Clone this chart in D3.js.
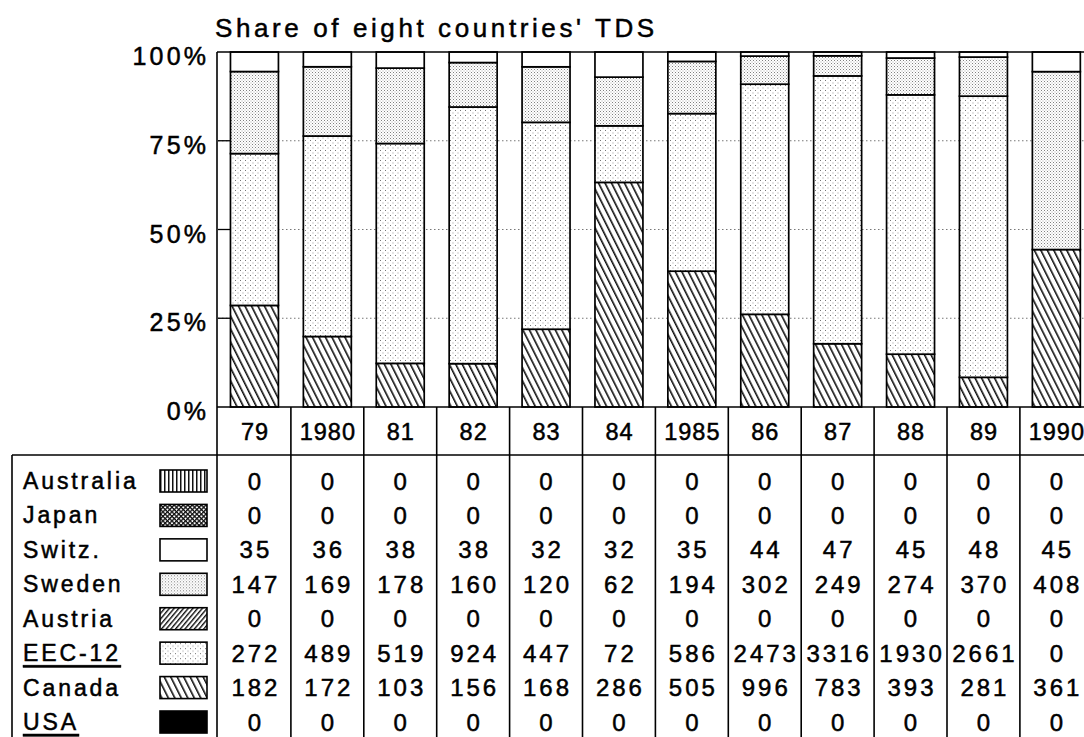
<!DOCTYPE html>
<html>
<head>
<meta charset="utf-8">
<script src="https://cdn.jsdelivr.net/npm/d3@7"></script>
<style>
  html, body { margin: 0; padding: 0; background: #fff; }
  svg { display: block; }
  text { font-family: "Liberation Sans", Arial, Helvetica, sans-serif; fill: #000; stroke: #000; stroke-width: 0.5px; }
</style>
</head>
<body>
<svg id="chart" width="1084" height="737"></svg>
<script>
// Years along the horizontal axis / table header
const years = ["79", "1980", "81", "82", "83", "84", "1985", "86", "87", "88", "89", "1990"];

// Series values per year (table rows, top to bottom)
const australia = [0, 0, 0, 0, 0, 0, 0, 0, 0, 0, 0, 0];
const japan     = [0, 0, 0, 0, 0, 0, 0, 0, 0, 0, 0, 0];
const switz     = [35, 36, 38, 38, 32, 32, 35, 44, 47, 45, 48, 45];
const sweden    = [147, 169, 178, 160, 120, 62, 194, 302, 249, 274, 370, 408];
const austria   = [0, 0, 0, 0, 0, 0, 0, 0, 0, 0, 0, 0];
const eec12     = [272, 489, 519, 924, 447, 72, 586, 2473, 3316, 1930, 2661, 0];
const canada    = [182, 172, 103, 156, 168, 286, 505, 996, 783, 393, 281, 361];
const usa       = [0, 0, 0, 0, 0, 0, 0, 0, 0, 0, 0, 0];

// Table / legend rows in display order (top of stack first)
const seriesNames = ["Australia", "Japan", "Switz.", "Sweden", "Austria", "EEC-12", "Canada", "USA"];
const seriesValues = [australia, japan, switz, sweden, austria, eec12, canada, usa];
const underlined = ["EEC-12", "USA"];

// Y axis tick labels
const yTicks = [0, 0.25, 0.5, 0.75, 1];
const yTickLabels = ["0%", "25%", "50%", "75%", "100%"];

const title = "Share of eight countries' TDS";

// ---------- build rows for d3.stack ----------
const rows = years.map((yr, i) => {
  const r = { year: yr };
  seriesNames.forEach((n, k) => { r[n] = seriesValues[k][i]; });
  return r;
});
const stackKeys = seriesNames.slice().reverse(); // bottom of the bar first
const stacked = d3.stack().keys(stackKeys).offset(d3.stackOffsetExpand)(rows);

// ---------- layout ----------
const svg = d3.select("#chart");
const plotLeft = 218, colW = 72.9;
const plotTop = 52, plotBottom = 407;
const headerBottom = 455;
const rowTop = 481, rowStep = 34.43;
const tableLeft = 12;
const bottomEdge = 760;

const x = d3.scaleBand()
  .domain(years)
  .range([plotLeft, plotLeft + colW * years.length])
  .paddingInner(0.342)
  .paddingOuter(0.171);
const y = d3.scaleLinear().domain([0, 1]).range([plotBottom, plotTop]);
const plotRight = plotLeft + colW * years.length;

// ---------- fill patterns ----------
const defs = svg.append("defs");
function pat(id, w, h, transform) {
  const p = defs.append("pattern").attr("id", id)
    .attr("patternUnits", "userSpaceOnUse").attr("width", w).attr("height", h);
  if (transform) p.attr("patternTransform", transform);
  p.append("rect").attr("width", w).attr("height", h).attr("fill", "#fff");
  return p;
}
// Canada: back-slash hatch
pat("p-canada", 5.8, 10, "rotate(-26.6)")
  .append("rect").attr("x", 0).attr("y", 0).attr("width", 1.6).attr("height", 10).attr("fill", "#111");
// Austria: forward-slash hatch, denser
pat("p-austria", 3.6, 10, "rotate(40)")
  .append("rect").attr("x", 0).attr("y", 0).attr("width", 1.4).attr("height", 10).attr("fill", "#111");
// Australia: vertical lines
pat("p-australia", 4, 10)
  .append("rect").attr("x", 0).attr("y", 0).attr("width", 1.5).attr("height", 10).attr("fill", "#111");
// Japan: fine cross-hatch
{
  const p = pat("p-japan", 3.2, 3.2, "rotate(45)");
  p.append("rect").attr("x", 0).attr("y", 0).attr("width", 1.3).attr("height", 3.2).attr("fill", "#111");
  p.append("rect").attr("x", 0).attr("y", 0).attr("width", 3.2).attr("height", 1.3).attr("fill", "#111");
}
// Sweden: denser stipple
{
  const p = pat("p-sweden", 3, 3);
  p.append("rect").attr("x", 0).attr("y", 0).attr("width", 1).attr("height", 1).attr("fill", "#808080");
  p.append("rect").attr("x", 1.5).attr("y", 1.5).attr("width", 1).attr("height", 1).attr("fill", "#a8a8a8");
}
// EEC-12: sparse stipple
{
  const p = pat("p-eec", 5, 5);
  p.append("rect").attr("x", 0).attr("y", 0).attr("width", 1).attr("height", 1).attr("fill", "#777");
  p.append("rect").attr("x", 2.5).attr("y", 2.5).attr("width", 1).attr("height", 1).attr("fill", "#999");
}
const fills = {
  "Australia": "url(#p-australia)",
  "Japan": "url(#p-japan)",
  "Switz.": "#fff",
  "Sweden": "url(#p-sweden)",
  "Austria": "url(#p-austria)",
  "EEC-12": "url(#p-eec)",
  "Canada": "url(#p-canada)",
  "USA": "#000"
};

// ---------- grid lines & ticks ----------
svg.append("g").selectAll("line.grid")
  .data(yTicks.filter(t => t > 0 && t < 1))
  .join("line")
  .attr("x1", plotLeft).attr("x2", plotRight)
  .attr("y1", d => y(d)).attr("y2", d => y(d))
  .attr("stroke", "#777").attr("stroke-width", 1)
  .attr("stroke-dasharray", "1.5,2.5");

// ---------- bars ----------
svg.append("g").selectAll("g.series")
  .data(stacked)
  .join("g")
  .attr("fill", d => fills[d.key])
  .selectAll("rect")
  .data(d => d)
  .join("rect")
  .attr("x", d => x(d.data.year))
  .attr("width", x.bandwidth())
  .attr("y", d => y(d[1]))
  .attr("height", d => y(d[0]) - y(d[1]))
  .attr("stroke", "#000")
  .attr("stroke-width", 1.7);

// inward ticks on the left frame
svg.append("g").selectAll("line.tick")
  .data(yTicks.filter(t => t > 0 && t < 1))
  .join("line")
  .attr("x1", plotLeft).attr("x2", plotLeft + 12)
  .attr("y1", d => y(d)).attr("y2", d => y(d))
  .attr("stroke", "#000").attr("stroke-width", 1.3);

// y tick labels (letter-spacing trails each glyph, so compensate with dx)
const yLs = 3.2;
svg.append("g").selectAll("text")
  .data(yTicks)
  .join("text")
  .attr("x", 206)
  .attr("dx", yLs)
  .attr("y", d => y(d) + 4)
  .attr("text-anchor", "end")
  .attr("dominant-baseline", "central")
  .style("font-size", "25px")
  .style("letter-spacing", yLs + "px")
  .text((d, i) => yTickLabels[i]);

// title
svg.append("text")
  .attr("x", 215).attr("y", 37)
  .style("font-size", "26px")
  .style("letter-spacing", "3.6px")
  .text(title);

// ---------- frame & table rules ----------
const rules = svg.append("g").attr("stroke", "#000").attr("stroke-width", 1.6);
rules.append("line").attr("x1", plotLeft - 1).attr("x2", plotRight).attr("y1", plotTop).attr("y2", plotTop);
rules.append("line").attr("x1", plotLeft - 1).attr("x2", plotRight).attr("y1", plotBottom).attr("y2", plotBottom);
rules.append("line").attr("x1", tableLeft).attr("x2", plotRight).attr("y1", headerBottom).attr("y2", headerBottom);
rules.append("line").attr("x1", plotLeft - 1).attr("x2", plotLeft - 1).attr("y1", plotTop).attr("y2", bottomEdge);
rules.append("line").attr("x1", tableLeft).attr("x2", tableLeft).attr("y1", headerBottom).attr("y2", bottomEdge);
rules.selectAll("line.col")
  .data(years.slice(1))
  .join("line")
  .attr("x1", d => x(d) - x.step() * x.paddingInner() / 2)
  .attr("x2", d => x(d) - x.step() * x.paddingInner() / 2)
  .attr("y1", plotBottom).attr("y2", bottomEdge);

// header row (years)
const hLs = 1;
svg.append("g").selectAll("text")
  .data(years)
  .join("text")
  .attr("x", d => x(d) + x.bandwidth() / 2)
  .attr("dx", hLs / 2)
  .attr("y", 432)
  .attr("text-anchor", "middle")
  .attr("dominant-baseline", "central")
  .style("font-size", "23.5px")
  .style("letter-spacing", hLs + "px")
  .text(d => d);

// legend labels and swatches
const legend = svg.append("g").selectAll("g")
  .data(seriesNames)
  .join("g")
  .attr("transform", (d, i) => `translate(0,${rowTop + i * rowStep})`);
legend.append("text")
  .attr("x", 23).attr("y", 0)
  .attr("dominant-baseline", "central")
  .style("font-size", "23px")
  .style("letter-spacing", "2.9px")
  .style("text-decoration", d => underlined.includes(d) ? "underline" : null)
  .text(d => d);
legend.append("rect")
  .attr("x", 160).attr("y", -11)
  .attr("width", 47).attr("height", 22)
  .attr("fill", d => fills[d])
  .attr("stroke", "#000").attr("stroke-width", 1.6);

// table values
const vLs = 3;
svg.append("g").selectAll("g")
  .data(seriesValues)
  .join("g")
  .attr("transform", (d, i) => `translate(0,${rowTop + i * rowStep})`)
  .selectAll("text")
  .data(d => d)
  .join("text")
  .attr("x", (d, j) => x(years[j]) + x.bandwidth() / 2)
  .attr("dx", vLs / 2)
  .attr("y", 0)
  .attr("text-anchor", "middle")
  .attr("dominant-baseline", "central")
  .style("font-size", "24px")
  .style("letter-spacing", vLs + "px")
  .text(d => d);
</script>
</body>
</html>
